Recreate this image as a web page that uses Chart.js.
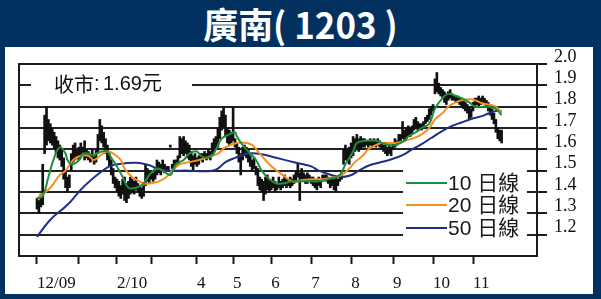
<!DOCTYPE html>
<html>
<head>
<meta charset="utf-8">
<script src="https://cdn.jsdelivr.net/npm/chart.js"></script>
<style>
  html, body { margin: 0; padding: 0; }
  body { width: 601px; height: 299px; background: #03315f; position: relative; overflow: hidden; }
  #title { position: absolute; left: 0; top: 2px; width: 601px; text-align: center; color: #fff;
           font: 700 36px "Noto Sans CJK TC", "Liberation Sans", sans-serif; line-height: 42px;
           transform: scaleX(0.97); }
  #panel { position: absolute; left: 5px; top: 47px; width: 588px; height: 247px; background: #fff; }
  #c { position: absolute; left: 0; top: 0; }
</style>
</head>
<body>
<div id="title">廣南( 1203 )</div>
<div id="panel"></div>
<canvas id="c" width="601" height="299"></canvas>
<script>
// trading-day index 0 = 1 Dec 2009
const monthTicks = [0, 22, 42, 60, 84, 103, 123, 144, 165, 187, 208, 229];
const monthLabels = ['12/09', '', '2/10', '', '4', '5', '6', '7', '8', '9', '10', '11'];
const yTicks = [1.2, 1.3, 1.4, 1.5, 1.6, 1.7, 1.8, 1.9, 2.0];

const lows = [
  1.32,1.30,1.33,1.34,1.58,1.62,1.64,1.63,1.62,1.60,
  1.58,1.56,1.55,1.52,1.46,1.42,1.40,1.42,1.50,1.54,
  1.55,1.56,1.55,1.56,1.57,1.55,1.56,1.55,1.54,1.55,
  1.53,1.54,1.58,1.64,1.63,1.61,1.58,1.55,1.52,1.48,
  1.44,1.42,1.40,1.38,1.37,1.39,1.36,1.35,1.37,1.39,
  1.40,1.39,1.41,1.40,1.38,1.37,1.38,1.43,1.45,1.44,
  1.46,1.45,1.46,1.48,1.49,1.48,1.50,1.49,1.50,1.50,
  1.61,1.51,1.51,1.52,1.53,1.56,1.58,1.57,1.58,1.56,
  1.55,1.52,1.50,1.53,1.52,1.53,1.55,1.54,1.56,1.55,
  1.56,1.55,1.58,1.59,1.60,1.61,1.65,1.69,1.70,1.66,
  1.63,1.62,1.63,1.64,1.61,1.58,1.54,1.48,1.55,1.57,
  1.56,1.54,1.52,1.50,1.51,1.48,1.43,1.41,1.40,1.36,
  1.39,1.41,1.40,1.41,1.42,1.40,1.41,1.42,1.41,1.42,
  1.43,1.42,1.43,1.42,1.43,1.44,1.45,1.47,1.36,1.46,
  1.45,1.44,1.44,1.45,1.44,1.43,1.42,1.41,1.43,1.42,
  1.45,1.46,1.45,1.44,1.42,1.43,1.41,1.40,1.43,1.45,
  1.46,1.53,1.55,1.54,1.53,1.56,1.57,1.59,1.60,1.59,
  1.60,1.61,1.61,1.62,1.61,1.62,1.61,1.62,1.61,1.62,
  1.61,1.60,1.59,1.58,1.57,1.58,1.57,1.60,1.61,1.62,
  1.63,1.64,1.65,1.64,1.65,1.66,1.66,1.67,1.69,1.70,
  1.69,1.70,1.69,1.70,1.72,1.73,1.74,1.76,1.78,1.86,
  1.87,1.86,1.85,1.84,1.82,1.81,1.83,1.84,1.83,1.83,
  1.82,1.82,1.81,1.80,1.79,1.78,1.77,1.74,1.75,1.78,
  1.80,1.81,1.80,1.81,1.82,1.81,1.80,1.78,1.76,1.74,
  1.72,1.68,1.65,1.64,1.63
];
const highs = [
  1.37,1.36,1.39,1.53,1.76,1.80,1.74,1.72,1.70,1.68,
  1.66,1.64,1.62,1.60,1.56,1.50,1.47,1.48,1.58,1.62,
  1.63,1.60,1.61,1.63,1.61,1.64,1.60,1.59,1.58,1.60,
  1.57,1.60,1.67,1.74,1.71,1.68,1.65,1.62,1.58,1.55,
  1.51,1.47,1.46,1.45,1.43,1.46,1.47,1.44,1.45,1.47,
  1.46,1.45,1.47,1.44,1.43,1.42,1.43,1.53,1.51,1.50,
  1.50,1.49,1.51,1.55,1.54,1.53,1.55,1.53,1.52,1.52,
  1.62,1.53,1.55,1.55,1.57,1.66,1.65,1.66,1.64,1.63,
  1.62,1.59,1.57,1.58,1.56,1.57,1.58,1.58,1.59,1.58,
  1.60,1.59,1.63,1.65,1.66,1.70,1.75,1.78,1.80,1.76,
  1.70,1.69,1.68,1.80,1.65,1.63,1.61,1.58,1.61,1.62,
  1.61,1.60,1.57,1.55,1.56,1.52,1.51,1.47,1.46,1.45,
  1.47,1.48,1.46,1.45,1.47,1.45,1.44,1.47,1.45,1.46,
  1.48,1.46,1.46,1.47,1.46,1.48,1.50,1.53,1.49,1.51,
  1.49,1.48,1.49,1.48,1.47,1.47,1.46,1.46,1.47,1.46,
  1.48,1.48,1.48,1.47,1.46,1.47,1.46,1.47,1.46,1.48,
  1.49,1.60,1.62,1.60,1.61,1.63,1.66,1.65,1.67,1.65,
  1.66,1.65,1.65,1.64,1.64,1.65,1.64,1.65,1.64,1.65,
  1.64,1.63,1.62,1.62,1.61,1.62,1.61,1.63,1.65,1.64,
  1.67,1.67,1.73,1.69,1.70,1.71,1.70,1.71,1.74,1.75,
  1.73,1.72,1.72,1.73,1.75,1.76,1.79,1.80,1.81,1.93,
  1.96,1.91,1.89,1.88,1.87,1.86,1.87,1.88,1.86,1.85,
  1.85,1.85,1.84,1.84,1.83,1.82,1.81,1.80,1.79,1.82,
  1.84,1.84,1.85,1.84,1.85,1.84,1.83,1.82,1.81,1.79,
  1.77,1.74,1.70,1.69,1.69
];

// moving averages, read at selected trading days
const ma10Days = [0,3,6,9,12,15,16,18,21,23,24,27,30,31,34,37,39,42,45,48,52,56,59,63,66,70,73,77,80,84,86,89,92,94,97,101,104,105,108,111,115,118,122,126,129,134,140,144,148,153,159,162,166,168,173,178,181,185,188,193,195,199,202,206,209,213,216,220,223,227,230,234,237,241,244];
const ma10 = [1.37,1.38,1.47,1.56,1.61,1.58,1.55,1.53,1.54,1.56,1.58,1.58,1.57,1.58,1.59,1.59,1.56,1.52,1.47,1.42,1.42,1.44,1.48,1.51,1.50,1.48,1.53,1.55,1.58,1.59,1.57,1.56,1.57,1.60,1.65,1.67,1.68,1.66,1.62,1.59,1.55,1.50,1.46,1.44,1.44,1.45,1.45,1.45,1.45,1.46,1.48,1.53,1.59,1.63,1.64,1.64,1.63,1.62,1.62,1.64,1.66,1.68,1.70,1.72,1.79,1.84,1.86,1.85,1.84,1.82,1.80,1.80,1.80,1.79,1.76];
const ma20Days = [0,7,12,15,19,23,27,30,33,37,40,44,46,50,56,59,64,68,71,75,80,85,89,92,95,99,105,110,113,117,122,126,129,134,139,144,150,157,160,164,167,171,174,178,181,185,188,193,197,202,206,209,213,216,220,223,227,230,234,237,241,244];
const ma20 = [1.37,1.42,1.48,1.50,1.55,1.57,1.57,1.55,1.57,1.59,1.58,1.55,1.51,1.47,1.44,1.44,1.45,1.47,1.50,1.53,1.54,1.55,1.56,1.57,1.58,1.61,1.63,1.63,1.62,1.58,1.53,1.50,1.48,1.45,1.455,1.46,1.46,1.47,1.48,1.51,1.54,1.57,1.60,1.62,1.63,1.63,1.63,1.64,1.65,1.67,1.70,1.74,1.77,1.80,1.82,1.83,1.835,1.83,1.815,1.81,1.80,1.77];
const ma50Days = [0,7,16,24,33,38,42,52,59,63,68,73,80,87,92,95,99,104,111,118,125,132,139,144,148,153,159,164,169,174,180,185,190,193,197,202,207,213,218,223,228,234,237,241,244];
const ma50 = [1.19,1.27,1.34,1.42,1.49,1.52,1.53,1.537,1.525,1.51,1.50,1.50,1.50,1.497,1.50,1.51,1.54,1.56,1.58,1.577,1.562,1.546,1.531,1.52,1.50,1.484,1.471,1.476,1.50,1.523,1.538,1.55,1.565,1.577,1.60,1.624,1.653,1.687,1.71,1.726,1.742,1.757,1.768,1.78,1.78];

const closeLabel = ['收市', ':', '1.69元'];
const legendLabels = ['10 日線', '20 日線', '50 日線'];
const lineColors = ['#1b8f3e', '#f5901e', '#1d2f86'];

const toPoints = (days, vals) => days.map((d, i) => ({ x: d, y: vals[i] }));

const overlay = {
    id: 'overlay',
    afterDraw(chart) {
        const { ctx, chartArea: a } = chart;
        ctx.save();
        // white boxes over grid for the close text and the legend
        ctx.fillStyle = '#fff';
        ctx.fillRect(31, 70, 161, 30);
        ctx.fillRect(403, 163, 124, 80);

        // frame
        ctx.strokeStyle = '#1a1a1a';
        ctx.lineWidth = 2;
        ctx.strokeRect(a.left, a.top, a.right - a.left, a.bottom - a.top);

        // close price text
        ctx.fillStyle = '#111';
        ctx.textBaseline = 'middle';
        ctx.font = '20px "Noto Sans CJK TC", sans-serif';
        ctx.fillText(closeLabel[0], 54, 84);
        ctx.font = '20px "Liberation Sans", sans-serif';
        ctx.fillText(closeLabel[1], 94, 84);
        ctx.font = '20px "Liberation Sans", "Noto Sans CJK TC", sans-serif';
        ctx.fillText(closeLabel[2], 103, 84);

        // legend
        const rows = [183, 205, 228];
        legendLabels.forEach((lbl, i) => {
            ctx.strokeStyle = lineColors[i];
            ctx.lineWidth = 2;
            ctx.beginPath();
            ctx.moveTo(406, rows[i]);
            ctx.lineTo(447, rows[i]);
            ctx.stroke();
            ctx.fillStyle = '#1a1a1a';
            ctx.font = '21px "Liberation Sans", "Noto Sans CJK TC", sans-serif';
            ctx.fillText(lbl, 448, rows[i] + 1);
        });
        ctx.restore();
    }
};

new Chart(document.getElementById('c'), {
    type: 'bar',
    data: {
        datasets: [{
            type: 'line',
            label: legendLabels[0],
            data: toPoints(ma10Days, ma10),
            borderColor: lineColors[0],
            borderWidth: 2,
            pointRadius: 0,
            tension: 0.4,
            order: 1
        }, {
            type: 'line',
            label: legendLabels[1],
            data: toPoints(ma20Days, ma20),
            borderColor: lineColors[1],
            borderWidth: 2,
            pointRadius: 0,
            tension: 0.4,
            order: 2
        }, {
            type: 'line',
            label: legendLabels[2],
            data: toPoints(ma50Days, ma50),
            borderColor: lineColors[2],
            borderWidth: 2,
            pointRadius: 0,
            tension: 0.4,
            order: 3
        }, {
            label: 'price',
            data: lows.map((lo, i) => ({ x: i, y: [lo, highs[i]] })),
            backgroundColor: '#111',
            barThickness: 2,
            order: 10
        }]
    },
    options: {
        responsive: false,
        animation: false,
        devicePixelRatio: 1,
        layout: { padding: { left: 19, top: 64, right: 0, bottom: 0 } },
        plugins: { legend: { display: false }, tooltip: { enabled: false } },
        scales: {
            x: {
                type: 'linear',
                offset: false,
                min: -9.45,
                max: 262.6,
                afterBuildTicks: s => { s.ticks = monthTicks.map(v => ({ value: v })); },
                afterFit: s => { s.height = 43; },
                grid: { offset: false, drawOnChartArea: false, drawTicks: true, tickLength: 8, tickWidth: 2, tickColor: '#1a1a1a' },
                border: { display: false },
                ticks: {
                    autoSkip: false,
                    maxRotation: 0,
                    minRotation: 0,
                    align: 'start',
                    padding: 9,
                    color: '#111',
                    font: { family: '"Liberation Serif", serif', size: 17 },
                    callback: (v, i) => monthLabels[i]
                }
            },
            y: {
                position: 'right',
                min: 1.1,
                max: 2.0,
                afterBuildTicks: s => { s.ticks = yTicks.map(v => ({ value: v })); },
                afterFit: s => { s.width = 64; },
                grid: { color: '#222', lineWidth: 2, tickLength: 10, tickWidth: 2, tickColor: '#1a1a1a' },
                border: { display: false },
                ticks: {
                    autoSkip: false,
                    padding: 7,
                    labelOffset: -7,
                    color: '#111',
                    font: { family: '"Liberation Serif", serif', size: 18 },
                    callback: v => v.toFixed(1)
                }
            }
        }
    },
    plugins: [overlay]
});
</script>
</body>
</html>
